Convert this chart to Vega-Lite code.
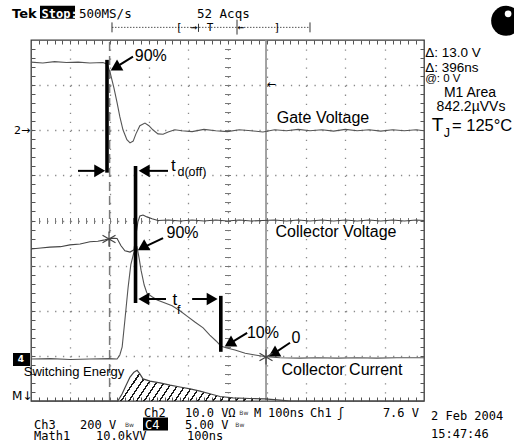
{
"$schema":"https://vega.github.io/schema/vega-lite/v6.json",
"width":393,"height":361,
"autosize":{"type":"none"},
"padding":{"left":31,"top":40,"right":90,"bottom":47},
"background":"white",
"config":{"view":{"stroke":"#3a3a3a","strokeWidth":1.3},"text":{"font":"Liberation Sans","color":"black"}},
"resolve":{"axis":{"x":"independent","y":"independent"}},
"encoding":{
 "x":{"field":"x","type":"quantitative","scale":{"domain":[0,10],"nice":false,"zero":false},"axis":null},
 "y":{"field":"y","type":"quantitative","scale":{"domain":[0,8],"nice":false,"zero":false},"axis":null}
},
"layer":[
 {"data":{"values":[{"x":2,"y":0,"y2":8}]},"mark":{"type":"rule","color":"#7a7a7a","strokeWidth":1.5,"strokeDash":[9,5]},"encoding":{"y2":{"field":"y2"}}},
 {"data":{"values":[{"x":5.98,"y":0,"y2":8}]},"mark":{"type":"rule","color":"#8c8c8c","strokeWidth":1.6},"encoding":{"y2":{"field":"y2"}}},
 {"data":{"values":[{"x":2.21,"y":0},{"x":2.32,"y":0.16},{"x":2.42,"y":0.35},{"x":2.52,"y":0.53},{"x":2.62,"y":0.64},{"x":2.7,"y":0.68},{"x":2.77,"y":0.6},{"x":2.85,"y":0.49},{"x":3.03,"y":0.44},{"x":3.28,"y":0.4},{"x":3.54,"y":0.35},{"x":3.79,"y":0.31},{"x":4.05,"y":0.27},{"x":4.3,"y":0.22},{"x":4.55,"y":0.16},{"x":4.81,"y":0.1},{"x":5.14,"y":0.07},{"x":5.57,"y":0.055},{"x":5.95,"y":0.045},{"x":5.97,"y":0}]},
  "mark":{"type":"area","color":{"gradient":"linear","x1":0,"y1":0,"x2":1.12,"y2":0.157,"stops":[
   {"offset":0,"color":"#1a1a1a"},{"offset":0.011,"color":"#1a1a1a"},{"offset":0.011,"color":"rgba(255,255,255,0)"},
   {"offset":0.0455,"color":"rgba(255,255,255,0)"},{"offset":0.0455,"color":"#1a1a1a"},{"offset":0.0565,"color":"#1a1a1a"},{"offset":0.0565,"color":"rgba(255,255,255,0)"},
   {"offset":0.0909,"color":"rgba(255,255,255,0)"},{"offset":0.0909,"color":"#1a1a1a"},{"offset":0.1019,"color":"#1a1a1a"},{"offset":0.1019,"color":"rgba(255,255,255,0)"},
   {"offset":0.1364,"color":"rgba(255,255,255,0)"},{"offset":0.1364,"color":"#1a1a1a"},{"offset":0.1474,"color":"#1a1a1a"},{"offset":0.1474,"color":"rgba(255,255,255,0)"},
   {"offset":0.1818,"color":"rgba(255,255,255,0)"},{"offset":0.1818,"color":"#1a1a1a"},{"offset":0.1928,"color":"#1a1a1a"},{"offset":0.1928,"color":"rgba(255,255,255,0)"},
   {"offset":0.2273,"color":"rgba(255,255,255,0)"},{"offset":0.2273,"color":"#1a1a1a"},{"offset":0.2383,"color":"#1a1a1a"},{"offset":0.2383,"color":"rgba(255,255,255,0)"},
   {"offset":0.2727,"color":"rgba(255,255,255,0)"},{"offset":0.2727,"color":"#1a1a1a"},{"offset":0.2837,"color":"#1a1a1a"},{"offset":0.2837,"color":"rgba(255,255,255,0)"},
   {"offset":0.3182,"color":"rgba(255,255,255,0)"},{"offset":0.3182,"color":"#1a1a1a"},{"offset":0.3292,"color":"#1a1a1a"},{"offset":0.3292,"color":"rgba(255,255,255,0)"},
   {"offset":0.3636,"color":"rgba(255,255,255,0)"},{"offset":0.3636,"color":"#1a1a1a"},{"offset":0.3746,"color":"#1a1a1a"},{"offset":0.3746,"color":"rgba(255,255,255,0)"},
   {"offset":0.4091,"color":"rgba(255,255,255,0)"},{"offset":0.4091,"color":"#1a1a1a"},{"offset":0.4201,"color":"#1a1a1a"},{"offset":0.4201,"color":"rgba(255,255,255,0)"},
   {"offset":0.4545,"color":"rgba(255,255,255,0)"},{"offset":0.4545,"color":"#1a1a1a"},{"offset":0.4655,"color":"#1a1a1a"},{"offset":0.4655,"color":"rgba(255,255,255,0)"},
   {"offset":0.5,"color":"rgba(255,255,255,0)"},{"offset":0.5,"color":"#1a1a1a"},{"offset":0.511,"color":"#1a1a1a"},{"offset":0.511,"color":"rgba(255,255,255,0)"},
   {"offset":0.5455,"color":"rgba(255,255,255,0)"},{"offset":0.5455,"color":"#1a1a1a"},{"offset":0.5565,"color":"#1a1a1a"},{"offset":0.5565,"color":"rgba(255,255,255,0)"},
   {"offset":0.5909,"color":"rgba(255,255,255,0)"},{"offset":0.5909,"color":"#1a1a1a"},{"offset":0.6019,"color":"#1a1a1a"},{"offset":0.6019,"color":"rgba(255,255,255,0)"},
   {"offset":0.6364,"color":"rgba(255,255,255,0)"},{"offset":0.6364,"color":"#1a1a1a"},{"offset":0.6474,"color":"#1a1a1a"},{"offset":0.6474,"color":"rgba(255,255,255,0)"},
   {"offset":0.6818,"color":"rgba(255,255,255,0)"},{"offset":0.6818,"color":"#1a1a1a"},{"offset":0.6928,"color":"#1a1a1a"},{"offset":0.6928,"color":"rgba(255,255,255,0)"},
   {"offset":0.7273,"color":"rgba(255,255,255,0)"},{"offset":0.7273,"color":"#1a1a1a"},{"offset":0.7383,"color":"#1a1a1a"},{"offset":0.7383,"color":"rgba(255,255,255,0)"},
   {"offset":0.7727,"color":"rgba(255,255,255,0)"},{"offset":0.7727,"color":"#1a1a1a"},{"offset":0.7837,"color":"#1a1a1a"},{"offset":0.7837,"color":"rgba(255,255,255,0)"},
   {"offset":0.8182,"color":"rgba(255,255,255,0)"},{"offset":0.8182,"color":"#1a1a1a"},{"offset":0.8292,"color":"#1a1a1a"},{"offset":0.8292,"color":"rgba(255,255,255,0)"},
   {"offset":0.8636,"color":"rgba(255,255,255,0)"},{"offset":0.8636,"color":"#1a1a1a"},{"offset":0.8746,"color":"#1a1a1a"},{"offset":0.8746,"color":"rgba(255,255,255,0)"},
   {"offset":0.9091,"color":"rgba(255,255,255,0)"},{"offset":0.9091,"color":"#1a1a1a"},{"offset":0.9201,"color":"#1a1a1a"},{"offset":0.9201,"color":"rgba(255,255,255,0)"},
   {"offset":0.9545,"color":"rgba(255,255,255,0)"},{"offset":0.9545,"color":"#1a1a1a"},{"offset":0.9655,"color":"#1a1a1a"},{"offset":0.9655,"color":"rgba(255,255,255,0)"},
   {"offset":1,"color":"rgba(255,255,255,0)"}
  ]}},"encoding":{}},
 {"data":{"values":[{"x":0,"y":7.51},{"x":0.3,"y":7.49},{"x":0.6,"y":7.52},{"x":0.9,"y":7.5},{"x":1.2,"y":7.51},{"x":1.5,"y":7.49},{"x":1.83,"y":7.5},{"x":1.93,"y":7.47},{"x":2.01,"y":7.29},{"x":2.11,"y":6.94},{"x":2.19,"y":6.61},{"x":2.26,"y":6.3},{"x":2.34,"y":6.01},{"x":2.44,"y":5.79},{"x":2.52,"y":5.72},{"x":2.6,"y":5.76},{"x":2.67,"y":5.92},{"x":2.77,"y":6.1},{"x":2.9,"y":6.16},{"x":3.0,"y":6.1},{"x":3.1,"y":6.01},{"x":3.23,"y":5.92},{"x":3.36,"y":5.91},{"x":3.49,"y":5.96},{"x":3.66,"y":6.01},{"x":3.84,"y":5.99},{"x":4.1,"y":5.97},{"x":4.4,"y":6.02},{"x":4.7,"y":5.99},{"x":5.0,"y":5.97},{"x":5.3,"y":6.01},{"x":5.6,"y":5.99},{"x":5.9,"y":5.96},{"x":6.2,"y":6.01},{"x":6.5,"y":5.99},{"x":6.8,"y":6.02},{"x":7.1,"y":5.99},{"x":7.4,"y":6.01},{"x":7.7,"y":5.98},{"x":8.0,"y":6.02},{"x":8.3,"y":5.99},{"x":8.6,"y":6.01},{"x":8.9,"y":5.98},{"x":9.2,"y":6.01},{"x":9.5,"y":5.99},{"x":9.8,"y":6.01},{"x":10,"y":5.99}]},
  "mark":{"type":"line","color":"#555","strokeWidth":1.1},
  "encoding":{
   "x":{"field":"x","type":"quantitative","scale":{"domain":[0,10],"nice":false,"zero":false},"axis":{"orient":"bottom","values":[1,2,3,4,5,6,7,8,9],"grid":true,"gridColor":"#8a8a8a","gridWidth":1.3,"gridDash":[1.3,7.72],"domain":false,"ticks":false,"labels":false,"title":null}},
   "y":{"field":"y","type":"quantitative","scale":{"domain":[0,8],"nice":false,"zero":false},"axis":{"orient":"left","values":[1,2,3,4,5,6,7],"grid":true,"gridColor":"#8a8a8a","gridWidth":1.3,"gridDash":[1.3,6.56],"domain":false,"ticks":false,"labels":false,"title":null}}
  }},
 {"data":{"values":[{"x":0,"y":3.37},{"x":0.25,"y":3.39},{"x":0.48,"y":3.41},{"x":0.75,"y":3.42},{"x":0.99,"y":3.46},{"x":1.25,"y":3.48},{"x":1.5,"y":3.53},{"x":1.7,"y":3.54},{"x":1.88,"y":3.57},{"x":2.06,"y":3.61},{"x":2.19,"y":3.6},{"x":2.29,"y":3.44},{"x":2.39,"y":3.33},{"x":2.52,"y":3.3},{"x":2.62,"y":3.35},{"x":2.67,"y":3.68},{"x":2.72,"y":3.97},{"x":2.77,"y":4.1},{"x":2.85,"y":4.12},{"x":2.95,"y":4.08},{"x":3.08,"y":4.04},{"x":3.23,"y":4.0},{"x":3.5,"y":4.01},{"x":3.8,"y":3.99},{"x":4.1,"y":4.01},{"x":4.4,"y":3.99},{"x":4.7,"y":4.01},{"x":5.0,"y":3.99},{"x":5.3,"y":4.01},{"x":5.6,"y":3.99},{"x":5.9,"y":4.0},{"x":6.2,"y":4.01},{"x":6.5,"y":3.99},{"x":6.8,"y":4.01},{"x":7.1,"y":3.99},{"x":7.4,"y":4.01},{"x":7.7,"y":3.99},{"x":8.0,"y":4.01},{"x":8.3,"y":3.99},{"x":8.6,"y":4.01},{"x":8.9,"y":3.99},{"x":9.2,"y":4.01},{"x":9.5,"y":3.99},{"x":9.8,"y":4.01},{"x":10,"y":4.0}]},
  "mark":{"type":"line","color":"#444","strokeWidth":1.1},
  "encoding":{
   "x":{"field":"x","type":"quantitative","scale":{"domain":[0,10],"nice":false,"zero":false},"axis":{"orient":"bottom","values":[0.2,0.4,0.6,0.8,1,1.2,1.4,1.6,1.8,2,2.2,2.4,2.6,2.8,3,3.2,3.4,3.6,3.8,4,4.2,4.4,4.6,4.8,5,5.2,5.4,5.6,5.8,6,6.2,6.4,6.6,6.8,7,7.2,7.4,7.6,7.8,8,8.2,8.4,8.6,8.8,9,9.2,9.4,9.6,9.8],"grid":false,"domain":false,"ticks":true,"tickSize":-4,"tickColor":"#555","tickWidth":1,"labels":false,"title":null}},
   "y":{"field":"y","type":"quantitative","scale":{"domain":[0,8],"nice":false,"zero":false},"axis":{"orient":"left","values":[0.2,0.4,0.6,0.8,1,1.2,1.4,1.6,1.8,2,2.2,2.4,2.6,2.8,3,3.2,3.4,3.6,3.8,4,4.2,4.4,4.6,4.8,5,5.2,5.4,5.6,5.8,6,6.2,6.4,6.6,6.8,7,7.2,7.4,7.6,7.8],"grid":false,"domain":false,"ticks":true,"tickSize":-4,"tickColor":"#555","tickWidth":1,"labels":false,"title":null}}
  }},
 {"data":{"values":[{"x":0,"y":0.93},{"x":0.5,"y":0.94},{"x":1.0,"y":0.92},{"x":1.5,"y":0.93},{"x":2.0,"y":0.94},{"x":2.19,"y":0.93},{"x":2.26,"y":1.02},{"x":2.32,"y":1.2},{"x":2.39,"y":1.8},{"x":2.47,"y":2.51},{"x":2.54,"y":3.02},{"x":2.62,"y":3.3},{"x":2.7,"y":3.41},{"x":2.75,"y":3.17},{"x":2.8,"y":2.9},{"x":2.88,"y":2.57},{"x":2.95,"y":2.39},{"x":3.08,"y":2.31},{"x":3.21,"y":2.24},{"x":3.41,"y":2.17},{"x":3.59,"y":2.11},{"x":3.79,"y":2.0},{"x":3.97,"y":1.88},{"x":4.17,"y":1.75},{"x":4.38,"y":1.62},{"x":4.55,"y":1.46},{"x":4.71,"y":1.33},{"x":4.83,"y":1.22},{"x":4.96,"y":1.18},{"x":5.19,"y":1.13},{"x":5.45,"y":1.06},{"x":5.7,"y":1.02},{"x":5.98,"y":0.98},{"x":6.34,"y":0.96},{"x":6.84,"y":0.95},{"x":7.3,"y":0.96},{"x":7.8,"y":0.95},{"x":8.3,"y":0.96},{"x":8.8,"y":0.95},{"x":9.3,"y":0.96},{"x":10,"y":0.96}]},
  "mark":{"type":"line","color":"#555","strokeWidth":1.1},
  "encoding":{
   "x":{"field":"x","type":"quantitative","scale":{"domain":[0,10],"nice":false,"zero":false},"axis":{"orient":"top","values":[0.2,0.4,0.6,0.8,1,1.2,1.4,1.6,1.8,2,2.2,2.4,2.6,2.8,3,3.2,3.4,3.6,3.8,4,4.2,4.4,4.6,4.8,5,5.2,5.4,5.6,5.8,6,6.2,6.4,6.6,6.8,7,7.2,7.4,7.6,7.8,8,8.2,8.4,8.6,8.8,9,9.2,9.4,9.6,9.8],"grid":false,"domain":false,"ticks":true,"tickSize":-4,"tickColor":"#555","tickWidth":1,"labels":false,"title":null}},
   "y":{"field":"y","type":"quantitative","scale":{"domain":[0,8],"nice":false,"zero":false},"axis":{"orient":"right","values":[0.2,0.4,0.6,0.8,1,1.2,1.4,1.6,1.8,2,2.2,2.4,2.6,2.8,3,3.2,3.4,3.6,3.8,4,4.2,4.4,4.6,4.8,5,5.2,5.4,5.6,5.8,6,6.2,6.4,6.6,6.8,7,7.2,7.4,7.6,7.8],"grid":false,"domain":false,"ticks":true,"tickSize":-4,"tickColor":"#555","tickWidth":1,"labels":false,"title":null}}
  }},
 {"data":{"values":[{"x":0,"y":0},{"x":2.21,"y":0},{"x":2.32,"y":0.16},{"x":2.42,"y":0.35},{"x":2.52,"y":0.53},{"x":2.62,"y":0.64},{"x":2.7,"y":0.68},{"x":2.77,"y":0.6},{"x":2.85,"y":0.49},{"x":3.03,"y":0.44},{"x":3.28,"y":0.4},{"x":3.54,"y":0.35},{"x":3.79,"y":0.31},{"x":4.05,"y":0.27},{"x":4.3,"y":0.22},{"x":4.55,"y":0.16},{"x":4.81,"y":0.1},{"x":5.14,"y":0.07},{"x":5.57,"y":0.055},{"x":5.95,"y":0.045},{"x":6.34,"y":0.02},{"x":6.6,"y":0},{"x":10,"y":0}]},
  "mark":{"type":"line","color":"#444","strokeWidth":1.2},
  "encoding":{
   "x":{"field":"x","type":"quantitative","scale":{"domain":[0,10],"nice":false,"zero":false},"axis":{"orient":"top","offset":-183.5,"values":[0.2,0.4,0.6,0.8,1,1.2,1.4,1.6,1.8,2,2.2,2.4,2.6,2.8,3,3.2,3.4,3.6,3.8,4,4.2,4.4,4.6,4.8,5,5.2,5.4,5.6,5.8,6,6.2,6.4,6.6,6.8,7,7.2,7.4,7.6,7.8,8,8.2,8.4,8.6,8.8,9,9.2,9.4,9.6,9.8],"grid":false,"domain":false,"ticks":true,"tickSize":6,"tickColor":"#777","tickWidth":1,"labels":false,"title":null}},
   "y":{"field":"y","type":"quantitative","scale":{"domain":[0,8],"nice":false,"zero":false},"axis":{"orient":"left","offset":-199.5,"values":[0.2,0.4,0.6,0.8,1,1.2,1.4,1.6,1.8,2,2.2,2.4,2.6,2.8,3,3.2,3.4,3.6,3.8,4,4.2,4.4,4.6,4.8,5,5.2,5.4,5.6,5.8,6,6.2,6.4,6.6,6.8,7,7.2,7.4,7.6,7.8],"grid":false,"domain":false,"ticks":true,"tickSize":6,"tickColor":"#777","tickWidth":1,"labels":false,"title":null}}
  }},
 {"data":{"values":[{"x":1.934,"y":7.56,"y2":5.06},{"x":2.66,"y":5.21,"y2":2.17},{"x":4.83,"y":2.33,"y2":1.09}]},"mark":{"type":"rule","color":"black","strokeWidth":3.6,"strokeCap":"butt"},"encoding":{"y2":{"field":"y2"}}},
 {"data":{"values":[
  {"x":2.595,"y":7.63,"x2":2.09,"y2":7.36},
  {"x":1.196,"y":5.1,"x2":1.82,"y2":5.1},
  {"x":3.486,"y":5.1,"x2":2.81,"y2":5.1},
  {"x":3.36,"y":3.61,"x2":2.78,"y2":3.37},
  {"x":3.435,"y":2.26,"x2":2.8,"y2":2.26},
  {"x":4.10,"y":2.26,"x2":4.68,"y2":2.26},
  {"x":5.50,"y":1.51,"x2":4.99,"y2":1.24},
  {"x":6.59,"y":1.29,"x2":6.11,"y2":1.01}]},
  "mark":{"type":"rule","color":"black","strokeWidth":2},"encoding":{"x2":{"field":"x2"},"y2":{"field":"y2"}}},
 {"data":{"values":[{"x":2.149,"y":7.387},{"x":2.839,"y":3.40},{"x":5.049,"y":1.27},{"x":6.169,"y":1.046}]},
  "mark":{"type":"point","shape":"triangle-right","size":160,"filled":true,"color":"black","opacity":1,"angle":150},"encoding":{}},
 {"data":{"values":[{"x":1.748,"y":5.1},{"x":4.61,"y":2.26}]},
  "mark":{"type":"point","shape":"triangle-right","size":160,"filled":true,"color":"black","opacity":1},"encoding":{}},
 {"data":{"values":[{"x":2.88,"y":5.1},{"x":2.87,"y":2.26}]},
  "mark":{"type":"point","shape":"triangle-left","size":160,"filled":true,"color":"black","opacity":1},"encoding":{}},
 {"data":{"values":[{"x":1.985,"y":3.59},{"x":5.98,"y":0.976}]},"mark":{"type":"point","shape":"M0,-1L0,1M-0.866,-0.5L0.866,0.5M-0.866,0.5L0.866,-0.5","size":225,"filled":false,"stroke":"#444","strokeWidth":1.2,"opacity":1},"encoding":{}},
 {"data":{"values":[{"x":0.229,"x2":1.12,"y":8.614},{"x":2.85,"x2":3.486,"y":-0.51},{"x":-0.458,"x2":-0.025,"y":0.92}]},"mark":{"type":"rule","color":"black","strokeWidth":13,"strokeCap":"butt"},"encoding":{"x2":{"field":"x2"}}},
 {"data":{"values":[{"x":2.061,"x2":7.099,"y":8.28}]},"mark":{"type":"rule","color":"#555","strokeWidth":1,"strokeDash":[1.5,1.5]},"encoding":{"x2":{"field":"x2"}}},
 {"data":{"values":[{"x":2.061,"y":8.39,"y2":8.17},{"x":7.099,"y":8.39,"y2":8.17},{"x":4.262,"y":8.36,"y2":8.18},{"x":5.242,"y":8.45,"y2":8.12}]},"mark":{"type":"rule","color":"#333","strokeWidth":1},"encoding":{"y2":{"field":"y2"}}},
 {"data":{"values":[{"x":12.09,"y":8.426}]},"mark":{"type":"point","shape":"circle","size":900,"filled":true,"color":"black","opacity":1},"encoding":{}},
 {"data":{"values":[{"x":12.14,"y":8.58}]},"mark":{"type":"point","shape":"circle","size":45,"filled":true,"color":"white","opacity":1},"encoding":{}},
 {"data":{"values":[{"x":3.049,"y":7.545,"t":"90%"},{"x":3.855,"y":3.614,"t":"90%"},{"x":5.903,"y":1.397,"t":"10%"},{"x":6.743,"y":1.286,"t":"0"},{"x":7.43,"y":6.164,"t":"Gate Voltage"},{"x":7.761,"y":3.636,"t":"Collector Voltage"},{"x":7.913,"y":0.576,"t":"Collector Current"}]},
  "mark":{"type":"text","fontSize":16,"align":"center","baseline":"alphabetic"},"encoding":{"text":{"field":"t"}}},
 {"data":{"values":[{"x":1.094,"y":0.554,"t":"Switching Energy"}]},"mark":{"type":"text","fontSize":13,"align":"center","baseline":"alphabetic"},"encoding":{"text":{"field":"t"}}},
 {"data":{"values":[{"x":3.562,"y":5.1,"t":"t"},{"x":3.6,"y":2.129,"t":"t"}]},"mark":{"type":"text","fontSize":17,"align":"left","baseline":"alphabetic"},"encoding":{"text":{"field":"t"}}},
 {"data":{"values":[{"x":3.728,"y":4.989,"t":"d(off)"},{"x":3.715,"y":1.93,"t":"f"},{"x":10.5,"y":5.854,"t":"J"}]},"mark":{"type":"text","fontSize":12.5,"align":"left","baseline":"alphabetic"},"encoding":{"text":{"field":"t"}}},
 {"data":{"values":[{"x":10.03,"y":7.06,"t":"@: 0 V"}]},"mark":{"type":"text","fontSize":11.5,"align":"left","baseline":"alphabetic"},"encoding":{"text":{"field":"t"}}},
 {"data":{"values":[{"x":10.03,"y":7.62,"t":"Δ: 13.0 V"},{"x":10.03,"y":7.29,"t":"Δ: 396ns"}]},"mark":{"type":"text","fontSize":13.5,"align":"left","baseline":"alphabetic"},"encoding":{"text":{"field":"t"}}},
 {"data":{"values":[{"x":11.17,"y":6.741,"t":"M1 Area"},{"x":11.196,"y":6.419,"t":"842.2µVVs"}]},"mark":{"type":"text","fontSize":14,"align":"center","baseline":"alphabetic"},"encoding":{"text":{"field":"t"}}},
 {"data":{"values":[{"x":10.2,"y":5.976,"t":"T"}]},"mark":{"type":"text","fontSize":19,"align":"left","baseline":"alphabetic"},"encoding":{"text":{"field":"t"}}},
 {"data":{"values":[{"x":10.713,"y":5.976,"t":"= 125°C"}]},"mark":{"type":"text","fontSize":16.5,"align":"left","baseline":"alphabetic"},"encoding":{"text":{"field":"t"}}},
 {"data":{"values":[{"x":-0.483,"y":8.481,"t":"Tek"}]},"mark":{"type":"text","font":"DejaVu Sans","fontWeight":"bold","fontSize":13,"align":"left","baseline":"alphabetic"},"encoding":{"text":{"field":"t"}}},
 {"data":{"values":[{"x":0.267,"y":8.481,"t":"Stop:"}]},"mark":{"type":"text","font":"DejaVu Sans Mono","fontWeight":"bold","fontSize":12,"align":"left","baseline":"alphabetic","color":"white"},"encoding":{"text":{"field":"t"}}},
 {"data":{"values":[{"x":1.221,"y":8.481,"t":"500MS/s"},{"x":4.224,"y":8.481,"t":"52 Acqs"}]},"mark":{"type":"text","font":"DejaVu Sans Mono","fontSize":12.5,"align":"left","baseline":"alphabetic"},"encoding":{"text":{"field":"t"}}},
 {"data":{"values":[{"x":3.766,"y":8.27,"t":"["},{"x":6.26,"y":8.27,"t":"]"},{"x":4.555,"y":8.27,"t":"T"},{"x":4.148,"y":8.27,"t":"→"},{"x":5.344,"y":8.27,"t":"←"}]},"mark":{"type":"text","font":"DejaVu Sans Mono","fontSize":11,"align":"center","baseline":"middle"},"encoding":{"text":{"field":"t"}}},
 {"data":{"values":[{"x":2.875,"y":-0.355,"t":"Ch2"},{"x":3.919,"y":-0.355,"t":"10.0 VΩ"},{"x":5.674,"y":-0.355,"t":"M"},{"x":6.031,"y":-0.355,"t":"100ns"},{"x":7.099,"y":-0.355,"t":"Ch1"},{"x":7.786,"y":-0.355,"t":"ʃ"},{"x":0.076,"y":-0.621,"t":"Ch3"},{"x":1.247,"y":-0.621,"t":"200 V"},{"x":3.919,"y":-0.621,"t":"5.00 V"},{"x":0.076,"y":-0.865,"t":"Math1"},{"x":1.654,"y":-0.865,"t":"10.0kVV"},{"x":3.969,"y":-0.865,"t":"100ns"},{"x":10.178,"y":-0.421,"t":"2 Feb 2004"},{"x":10.178,"y":-0.82,"t":"15:47:46"}]},
  "mark":{"type":"text","font":"DejaVu Sans Mono","fontSize":12,"align":"left","baseline":"alphabetic"},"encoding":{"text":{"field":"t"}}},
 {"data":{"values":[{"x":9.873,"y":-0.355,"t":"7.6 V"}]},"mark":{"type":"text","font":"DejaVu Sans Mono","fontSize":12,"align":"right","baseline":"alphabetic"},"encoding":{"text":{"field":"t"}}},
 {"data":{"values":[{"x":2.901,"y":-0.621,"t":"C4"}]},"mark":{"type":"text","font":"DejaVu Sans Mono","fontSize":12,"align":"left","baseline":"alphabetic","color":"white"},"encoding":{"text":{"field":"t"}}},
 {"data":{"values":[{"x":5.3,"y":-0.3,"t":"Bw"},{"x":2.39,"y":-0.57,"t":"Bw"},{"x":5.2,"y":-0.57,"t":"Bw"}]},"mark":{"type":"text","font":"DejaVu Sans","fontSize":6,"align":"left","baseline":"alphabetic","color":"#333"},"encoding":{"text":{"field":"t"}}},
 {"data":{"values":[{"x":-0.433,"y":5.987,"t":"2→"},{"x":6.0,"y":7.007,"t":"←"}]},"mark":{"type":"text","font":"DejaVu Sans","fontSize":11,"align":"left","baseline":"middle"},"encoding":{"text":{"field":"t"}}},
 {"data":{"values":[{"x":-0.483,"y":0.02,"t":"M↓"}]},"mark":{"type":"text","font":"DejaVu Sans","fontSize":12,"align":"left","baseline":"alphabetic"},"encoding":{"text":{"field":"t"}}},
 {"data":{"values":[{"x":-0.26,"y":0.92,"t":"4"}]},"mark":{"type":"text","font":"DejaVu Sans","fontWeight":"bold","fontSize":9,"align":"center","baseline":"middle","color":"white"},"encoding":{"text":{"field":"t"}}}
]
}
